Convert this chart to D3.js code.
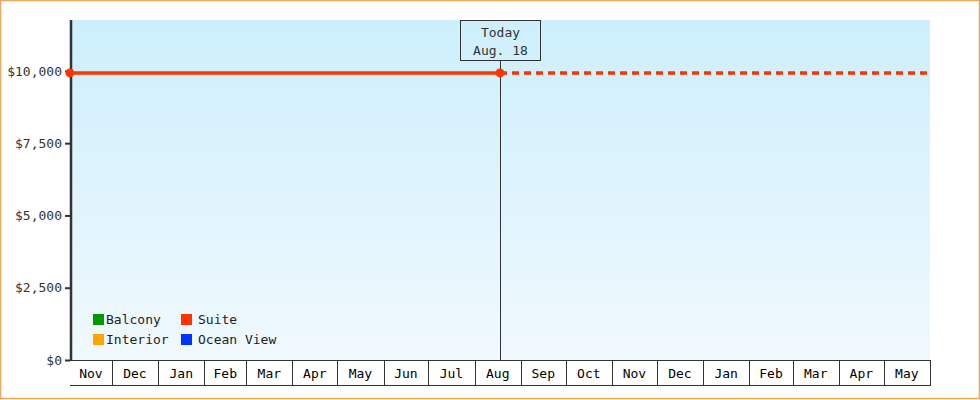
<!DOCTYPE html>
<html>
<head>
<meta charset="utf-8">
<script src="https://cdn.jsdelivr.net/npm/d3@7"></script>
<style>
  body { margin: 0; background: #fff; }
  svg { display: block; font-family: "DejaVu Sans Mono", monospace; font-size: 13px; }
</style>
</head>
<body>
<div class="canvas"></div>
<script>
var W = 980, H = 400;
var margin = {top: 20, right: 50, bottom: 40, left: 70},
    width = W - margin.left - margin.right,
    height = H - margin.top - margin.bottom;

// data
var domainDates = ["2022-11-03", "2024-06-01"];
var yMax = 11760;
var yTicks = [0, 2500, 5000, 7500, 10000];
var suiteDates = ["2022-11-03", "2023-08-18"];
var suiteValues = [9930, 9930];
var projDates = ["2023-08-18", "2024-06-01"];
var projValues = [9930, 9930];
var todayDate = "2023-08-18";
var todayLabel = ["Today", "Aug. 18"];
var legendNames = ["Balcony", "Suite", "Interior", "Ocean View"];
var legendColors = ["#009900", "#ff3300", "#ffa500", "#0033ff"];

var parse = d3.timeParse("%Y-%m-%d");

var svg = d3.select(".canvas").append("svg")
    .attr("width", W)
    .attr("height", H);

svg.append("rect")
    .attr("x", 0.5).attr("y", 0.5)
    .attr("width", W - 1).attr("height", H - 2)
    .attr("fill", "none")
    .attr("stroke", "#e9a862")
    .attr("stroke-width", 1.5);

var defs = svg.append("defs");
var grad = defs.append("linearGradient")
    .attr("id", "bg").attr("x1", 0).attr("y1", 0).attr("x2", 0).attr("y2", 1);
grad.append("stop").attr("offset", "0%").attr("stop-color", "#cdeffc");
grad.append("stop").attr("offset", "100%").attr("stop-color", "#f0f9fe");

var g = svg.append("g")
    .attr("transform", "translate(" + margin.left + "," + margin.top + ")");

var x = d3.scaleTime()
    .domain(domainDates.map(parse))
    .range([0, width]);
var y = d3.scaleLinear()
    .domain([0, yMax])
    .range([height, 0]);

g.append("rect")
    .attr("width", width)
    .attr("height", height)
    .attr("fill", "url(#bg)");

// month bands under the plot
var d0 = x.domain()[0], d1 = x.domain()[1];
var starts = [d0].concat(d3.timeMonth.range(d3.timeMonth.ceil(d0), d1));
var bands = starts.map(function(s, i) {
  var e = i < starts.length - 1 ? starts[i + 1] : d1;
  return {start: s, end: e};
}).filter(function(b) { return x(b.end) - x(b.start) > 10; });
var bandH = 25;
var xa = g.append("g").attr("transform", "translate(0," + height + ")");
xa.append("line")
    .attr("x1", 0).attr("x2", width + 1)
    .attr("y1", bandH + 0.5).attr("y2", bandH + 0.5)
    .attr("stroke", "#333");
xa.selectAll(".div")
    .data(bands)
  .enter().append("line")
    .attr("class", "div")
    .attr("x1", function(d) { return Math.round(x(d.end)) + 0.5; })
    .attr("x2", function(d) { return Math.round(x(d.end)) + 0.5; })
    .attr("y1", 0).attr("y2", bandH)
    .attr("stroke", "#333");
xa.selectAll(".mlabel")
    .data(bands)
  .enter().append("text")
    .attr("class", "mlabel")
    .attr("x", function(d) { return (x(d.start) + x(d.end)) / 2; })
    .attr("y", 18)
    .attr("text-anchor", "middle")
    .attr("fill", "#000")
    .text(function(d) { return d3.timeFormat("%b")(d.start); });
xa.append("line")
    .attr("x1", 0).attr("x2", width)
    .attr("y1", 0.5).attr("y2", 0.5)
    .attr("stroke", "#333");

// y axis
var yAxis = d3.axisLeft(y)
    .tickValues(yTicks)
    .tickSize(5)
    .tickPadding(3)
    .tickFormat(function(d) { return "$" + d3.format(",")(d); });
var ya = g.append("g").call(yAxis);
ya.select(".domain").remove();
ya.selectAll(".tick line").attr("stroke", "#333").attr("stroke-width", 2);
ya.selectAll(".tick text")
    .attr("fill", "#333")
    .style("font-family", "\"DejaVu Sans Mono\", monospace")
    .style("font-size", "13px");
g.append("line")
    .attr("x1", 1).attr("x2", 1)
    .attr("y1", 0).attr("y2", height + 1)
    .attr("stroke", "#333")
    .attr("stroke-width", 2.5);

// today marker
var tx = Math.round(x(parse(todayDate))) + 0.5;
g.append("line")
    .attr("x1", tx).attr("x2", tx)
    .attr("y1", 40).attr("y2", height)
    .attr("stroke", "#333");
g.append("rect")
    .attr("x", tx - 40).attr("y", 0.5)
    .attr("width", 80).attr("height", 40)
    .attr("fill", "none")
    .attr("stroke", "#333");
g.selectAll(".today")
    .data(todayLabel)
  .enter().append("text")
    .attr("class", "today")
    .attr("x", tx)
    .attr("y", function(d, i) { return 17 + i * 18; })
    .attr("text-anchor", "middle")
    .attr("fill", "#333")
    .text(function(d) { return d; });

// suite line
var line = d3.line()
    .x(function(d) { return x(d[0]); })
    .y(function(d) { return y(d[1]); });
var actual = suiteDates.map(function(d, i) { return [parse(d), suiteValues[i]]; });
var proj = projDates.map(function(d, i) { return [parse(d), projValues[i]]; });
g.append("path")
    .datum(proj)
    .attr("d", line)
    .attr("fill", "none")
    .attr("stroke", "#ff3300")
    .attr("stroke-width", 3.5)
    .attr("stroke-dasharray", "7,5");
g.append("path")
    .datum(actual)
    .attr("d", line)
    .attr("fill", "none")
    .attr("stroke", "#ff3300")
    .attr("stroke-width", 3.5);
g.selectAll(".dot")
    .data(actual)
  .enter().append("circle")
    .attr("class", "dot")
    .attr("cx", function(d) { return x(d[0]); })
    .attr("cy", function(d) { return y(d[1]); })
    .attr("r", 4.5)
    .attr("fill", "#ff3300");

// legend
var lg = g.append("g").attr("transform", "translate(23,294)");
var items = lg.selectAll(".item")
    .data(legendNames)
  .enter().append("g")
    .attr("class", "item")
    .attr("transform", function(d, i) {
      return "translate(" + ((i % 2) * 88) + "," + (Math.floor(i / 2) * 20) + ")";
    });
items.append("rect")
    .attr("width", 11).attr("height", 11)
    .attr("fill", function(d, i) { return legendColors[i]; });
items.append("text")
    .attr("x", function(d, i) { return i % 2 ? 17 : 13; })
    .attr("y", 10)
    .attr("fill", "#222")
    .text(function(d) { return d; });
</script>
</body>
</html>
